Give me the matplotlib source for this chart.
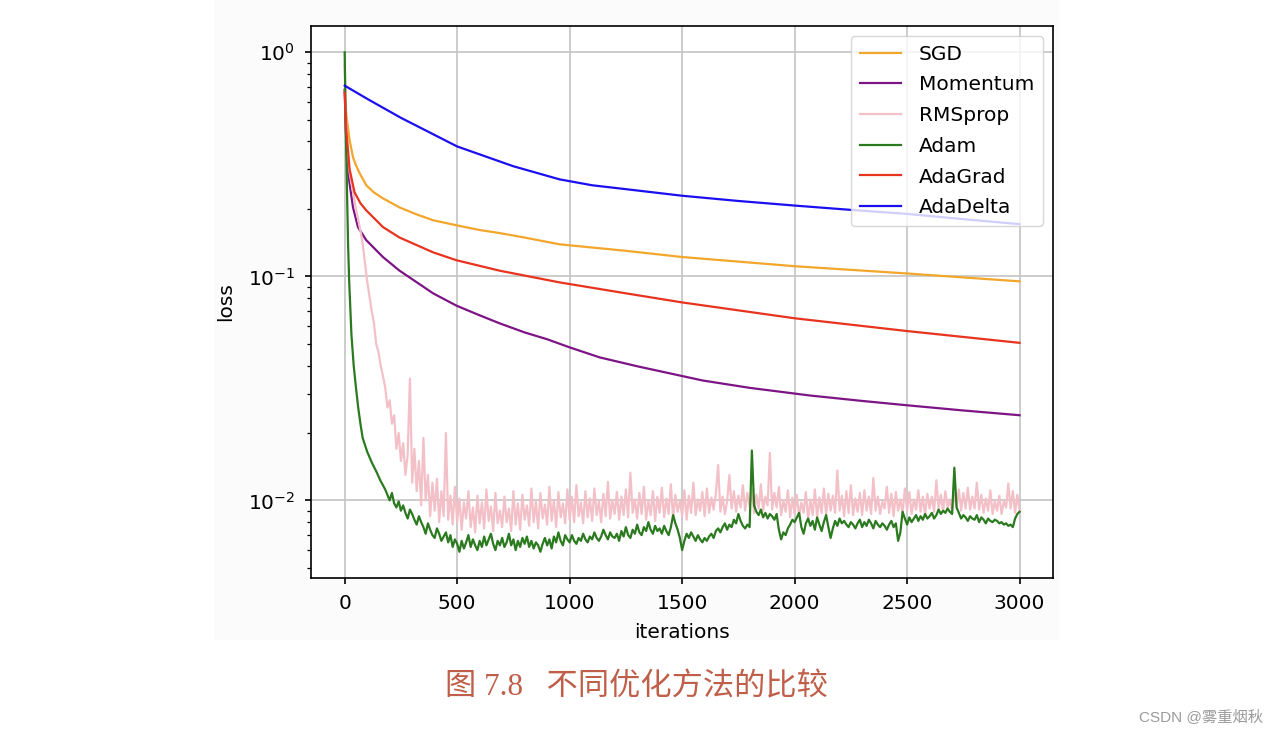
import matplotlib
matplotlib.use('Agg')
import matplotlib.pyplot as plt
from matplotlib.patches import Rectangle

# values (iteration -> loss)
sgd_it = [0, 7, 22, 37, 52, 67, 96, 130, 170, 244, 320, 393, 497, 600, 689, 800, 955, 1250,
          1500, 2000, 2500, 3000]
sgd_loss = [0.68, 0.53, 0.405, 0.34, 0.31, 0.288, 0.255, 0.237, 0.223, 0.203, 0.189, 0.178,
            0.169, 0.161, 0.156, 0.149, 0.139, 0.130, 0.122, 0.111, 0.103, 0.095]

momentum_it = [0, 5, 15, 37, 59, 96, 170, 244, 393, 497, 600, 689, 800, 900, 1000, 1133, 1300,
               1591, 1800, 2067, 2300, 2497, 2750, 3000]
momentum_loss = [0.68, 0.45, 0.29, 0.203, 0.166, 0.145, 0.122, 0.106, 0.084, 0.074, 0.067,
                 0.0617, 0.0562, 0.0524, 0.0482, 0.0435, 0.0397, 0.0343, 0.0318, 0.0294,
                 0.0278, 0.0266, 0.0252, 0.024]

adagrad_it = [0, 7, 22, 44, 70, 96, 170, 244, 393, 497, 689, 955, 1250, 1500, 2000, 2500, 3000]
adagrad_loss = [0.66, 0.45, 0.30, 0.237, 0.212, 0.197, 0.166, 0.149, 0.128, 0.118, 0.106,
                0.094, 0.084, 0.0765, 0.065, 0.057, 0.0505]

adadelta_it = [0, 100, 250, 500, 750, 955, 1100, 1250, 1500, 1750, 2000, 2250, 2500, 2750, 3000]
adadelta_loss = [0.71, 0.62, 0.51, 0.38, 0.31, 0.271, 0.255, 0.245, 0.229, 0.217, 0.207,
                 0.198, 0.19, 0.18, 0.171]

rms_it = [0, 5, 10, 20, 30, 40, 50, 60, 70, 80, 90, 100, 110, 120, 130, 140, 150, 160, 170, 180,
          190, 200, 210, 220, 230, 240, 250, 260, 270, 280, 290] + list(range(300, 3001, 10))
rms_loss = [0.88, 0.55, 0.40, 0.30, 0.26, 0.23, 0.20, 0.18, 0.16, 0.14, 0.115, 0.095, 0.082,
            0.070, 0.062, 0.050, 0.046, 0.040, 0.036, 0.032, 0.026, 0.028, 0.022, 0.024, 0.017,
            0.020, 0.015, 0.018, 0.013, 0.016, 0.035,
            0.012, 0.017, 0.011, 0.015, 0.0095, 0.019, 0.010, 0.013, 0.0085, 0.012,
            0.0090, 0.0125, 0.0080, 0.0110, 0.0085, 0.020, 0.0082, 0.0105, 0.0078, 0.0115,
            0.0080, 0.0102, 0.0074, 0.0098, 0.0083, 0.0110, 0.0076, 0.0093, 0.0072, 0.0105,
            0.0079, 0.0098, 0.0075, 0.0112, 0.0081, 0.0094, 0.0073, 0.0108, 0.0079, 0.0090,
            0.0076, 0.0104, 0.0080, 0.0092, 0.0073, 0.0110, 0.0078, 0.0097, 0.0074, 0.0106,
            0.0082, 0.0095, 0.0077, 0.0113, 0.0080, 0.0099, 0.0075, 0.0108, 0.0083, 0.0096,
            0.0078, 0.0115, 0.0081, 0.0100, 0.0076, 0.0109, 0.0084, 0.0097, 0.0079, 0.0112,
            0.0082, 0.0104, 0.0080, 0.0117, 0.0085, 0.0098, 0.0079, 0.0110, 0.0084, 0.0102,
            0.0081, 0.0113, 0.0086, 0.0099, 0.0080, 0.0107, 0.0085, 0.0121, 0.0083, 0.0100,
            0.0087, 0.0109, 0.0082, 0.0104, 0.0086, 0.0112, 0.0084, 0.0133, 0.0088, 0.0101,
            0.0083, 0.0108, 0.0087, 0.0115, 0.0082, 0.0100, 0.0086, 0.0110, 0.0081, 0.0104,
            0.0088, 0.0114, 0.0084, 0.0102, 0.0087, 0.0118, 0.0083, 0.0106, 0.0089, 0.0100,
            0.0085, 0.0111, 0.0082, 0.0105, 0.0088, 0.0120, 0.0086, 0.0101, 0.0090, 0.0109,
            0.0085, 0.0113, 0.0088, 0.0103, 0.0091, 0.0107, 0.0144, 0.0089, 0.0104, 0.0087,
            0.0099, 0.0130, 0.0092, 0.0110, 0.0089, 0.0105, 0.0093, 0.0117, 0.0090, 0.0108,
            0.0094, 0.0112, 0.0088, 0.0106, 0.0092, 0.0118, 0.0090, 0.0104, 0.0095, 0.0163,
            0.0091, 0.0108, 0.0093, 0.0115, 0.0086, 0.0100, 0.0089, 0.0111, 0.0084, 0.0103,
            0.0087, 0.0106, 0.0085, 0.0098, 0.0088, 0.0109, 0.0082, 0.0101, 0.0086, 0.0112,
            0.0084, 0.0103, 0.0088, 0.0113, 0.0086, 0.0107, 0.0090, 0.0105, 0.0088, 0.0136,
            0.0090, 0.0105, 0.0085, 0.0110, 0.0088, 0.0117, 0.0086, 0.0102, 0.0089, 0.0108,
            0.0086, 0.0111, 0.0090, 0.0104, 0.0087, 0.0126, 0.0090, 0.0104, 0.0087, 0.0099,
            0.0092, 0.0115, 0.0088, 0.0107, 0.0085, 0.0109, 0.0090, 0.0101, 0.0088, 0.0113,
            0.0090, 0.0109, 0.0087, 0.0101, 0.0091, 0.0111, 0.0089, 0.0104, 0.0086, 0.0107,
            0.0092, 0.0104, 0.0089, 0.0123, 0.0092, 0.0106, 0.0089, 0.0110, 0.0093, 0.0101,
            0.0090, 0.0107, 0.0094, 0.0112, 0.0090, 0.0108, 0.0092, 0.0114, 0.0091, 0.0104,
            0.0092, 0.0120, 0.0091, 0.0106, 0.0088, 0.0102, 0.0090, 0.0111, 0.0087, 0.0099,
            0.0090, 0.0105, 0.0087, 0.0099, 0.0093, 0.0119, 0.0092, 0.0110, 0.0088, 0.0106,
            0.0090]

adam_it = [0, 5, 10, 15, 20, 30, 40, 50, 60, 70, 80, 100, 120, 140, 160, 180] + \
          list(range(200, 3001, 10))
adam_loss = [1.0, 0.45, 0.25, 0.14, 0.095, 0.055, 0.040, 0.032, 0.026, 0.022, 0.019, 0.0165,
             0.0148, 0.0135, 0.0122, 0.0112,
             0.0100, 0.0108, 0.0097, 0.0093, 0.0099, 0.0090, 0.0095, 0.0088, 0.0083, 0.0091,
             0.0087, 0.0082, 0.0078, 0.0085, 0.0080, 0.0076, 0.0071, 0.0079, 0.0074, 0.0070,
             0.0068, 0.0075, 0.0071, 0.0066, 0.0069, 0.0072, 0.0065, 0.0070, 0.0062, 0.0067,
             0.0064, 0.0059, 0.0066, 0.0061, 0.0065, 0.0070, 0.0062, 0.0067, 0.0063, 0.0060,
             0.0066, 0.0062, 0.0069, 0.0063, 0.0067, 0.0071, 0.0064, 0.0060, 0.0066, 0.0063,
             0.0068, 0.0062, 0.0065, 0.0071, 0.0063, 0.0067, 0.0060, 0.0066, 0.0062, 0.0068,
             0.0064, 0.0069, 0.0062, 0.0066, 0.0061, 0.0065, 0.0063, 0.0059, 0.0064, 0.0068,
             0.0063, 0.0067, 0.0061, 0.0069, 0.0065, 0.0072, 0.0066, 0.0063, 0.0070, 0.0067,
             0.0065, 0.0070, 0.0066, 0.0064, 0.0068, 0.0066, 0.0071, 0.0067, 0.0065, 0.0069,
             0.0067, 0.0072, 0.0068, 0.0066, 0.0069, 0.0074, 0.0070, 0.0067, 0.0072, 0.0069,
             0.0068, 0.0071, 0.0066, 0.0073, 0.0069, 0.0076, 0.0070, 0.0068, 0.0074, 0.0071,
             0.0078, 0.0072, 0.0070, 0.0076, 0.0073, 0.0080, 0.0074, 0.0071, 0.0077, 0.0073,
             0.0075, 0.0071, 0.0077, 0.0073, 0.0070, 0.0076, 0.0086, 0.0079, 0.0074, 0.0068,
             0.0060, 0.0066, 0.0071, 0.0068, 0.0072, 0.0069, 0.0066, 0.0070, 0.0067, 0.0065,
             0.0068, 0.0066, 0.0069, 0.0071, 0.0068, 0.0073, 0.0075, 0.0072, 0.0076, 0.0079,
             0.0074, 0.0078, 0.0076, 0.0082, 0.0079, 0.0087, 0.0081, 0.0077, 0.0075, 0.0078,
             0.0076, 0.0167, 0.0095, 0.0089, 0.0086, 0.0091, 0.0084, 0.0088, 0.0083, 0.0087,
             0.0085, 0.0082, 0.0087, 0.0074, 0.0067, 0.0072, 0.0070, 0.0075, 0.0078, 0.0082,
             0.0080, 0.0084, 0.0088, 0.0076, 0.0071, 0.0079, 0.0083, 0.0077, 0.0081, 0.0074,
             0.0084, 0.0078, 0.0073, 0.0080, 0.0086, 0.0076, 0.0068, 0.0075, 0.0081, 0.0077,
             0.0083, 0.0079, 0.0081, 0.0078, 0.0076, 0.0080, 0.0078, 0.0075, 0.0079, 0.0082,
             0.0076, 0.0080, 0.0077, 0.0082, 0.0079, 0.0075, 0.0081, 0.0078, 0.0076, 0.0079,
             0.0077, 0.0074, 0.0078, 0.0081, 0.0076, 0.0079, 0.0066, 0.0072, 0.0089, 0.0083,
             0.0078, 0.0084, 0.0080, 0.0083, 0.0086, 0.0081, 0.0085, 0.0082, 0.0087, 0.0083,
             0.0085, 0.0088, 0.0083, 0.0086, 0.0091, 0.0087, 0.0090, 0.0088, 0.0092, 0.0089,
             0.0087, 0.0140, 0.0093, 0.0088, 0.0083, 0.0086, 0.0084, 0.0081, 0.0085, 0.0083,
             0.0082, 0.0086, 0.0080, 0.0084, 0.0082, 0.0079, 0.0083, 0.0081, 0.0080, 0.0082,
             0.0081, 0.0079, 0.0080, 0.0078, 0.0079, 0.0077, 0.0078, 0.0076, 0.0083, 0.0087,
             0.0089]

plt.rcParams['font.size'] = 14.5
plt.rcParams['axes.linewidth'] = 1.2
plt.rcParams['xtick.major.width'] = 1.2
plt.rcParams['ytick.major.width'] = 1.2
plt.rcParams['ytick.minor.width'] = 0.9
plt.rcParams['xtick.major.size'] = 4.5
plt.rcParams['ytick.major.size'] = 4.5
plt.rcParams['ytick.minor.size'] = 2.8
plt.rcParams['xtick.major.pad'] = 7
plt.rcParams['ytick.major.pad'] = 7

fig = plt.figure(figsize=(12.78, 7.33), dpi=100)
# faint panel of the pasted figure
fig.patches.append(Rectangle((0.1675, 0.127), 0.661, 0.873, transform=fig.transFigure,
                             facecolor='#fbfbfb', edgecolor='none', zorder=-10))
ax = fig.add_axes([0.2433, 0.211, 0.5809, 0.754])
ax.set_zorder(5)
ax.set_facecolor('white')

lw = 1.6
ax.plot(sgd_it, sgd_loss, color='#f3a62c', lw=lw, label='SGD')
ax.plot(momentum_it, momentum_loss, color='#7d1485', lw=lw, label='Momentum')
ax.plot(rms_it, rms_loss, color='#f4c0c8', lw=lw, label='RMSprop')
ax.plot(adam_it, adam_loss, color='#2b7a1f', lw=lw, label='Adam')
ax.plot(adagrad_it, adagrad_loss, color='#e8331f', lw=lw, label='AdaGrad')
ax.plot(adadelta_it, adadelta_loss, color='#1b0ff0', lw=lw, label='AdaDelta')

ax.set_yscale('log')
ax.set_xlim(-150, 3150)
ax.set_ylim(0.00449, 1.315)
ax.set_xticks([0, 500, 1000, 1500, 2000, 2500, 3000])
ax.grid(True, color='#c4c4c4', lw=1.2)
ax.set_axisbelow(True)
ax.set_xlabel('iterations', labelpad=7)
ax.set_ylabel('loss', labelpad=9)
ax.legend(loc='upper right', handlelength=2.0, borderaxespad=0.5, labelspacing=0.58,
          borderpad=0.45, handletextpad=0.9)

fig.text(0.498, 0.062, '图 7.8   不同优化方法的比较', ha='center', va='center', fontsize=22.5,
         color='#bf5f49', family=['Liberation Serif', 'Noto Sans CJK SC'])
fig.text(0.988, 0.023, 'CSDN @雾重烟秋', ha='right', va='center', fontsize=11,
         color='#9a9a9a', family=['Liberation Sans', 'Noto Sans CJK SC'])

fig.savefig('out.png', dpi=100)
